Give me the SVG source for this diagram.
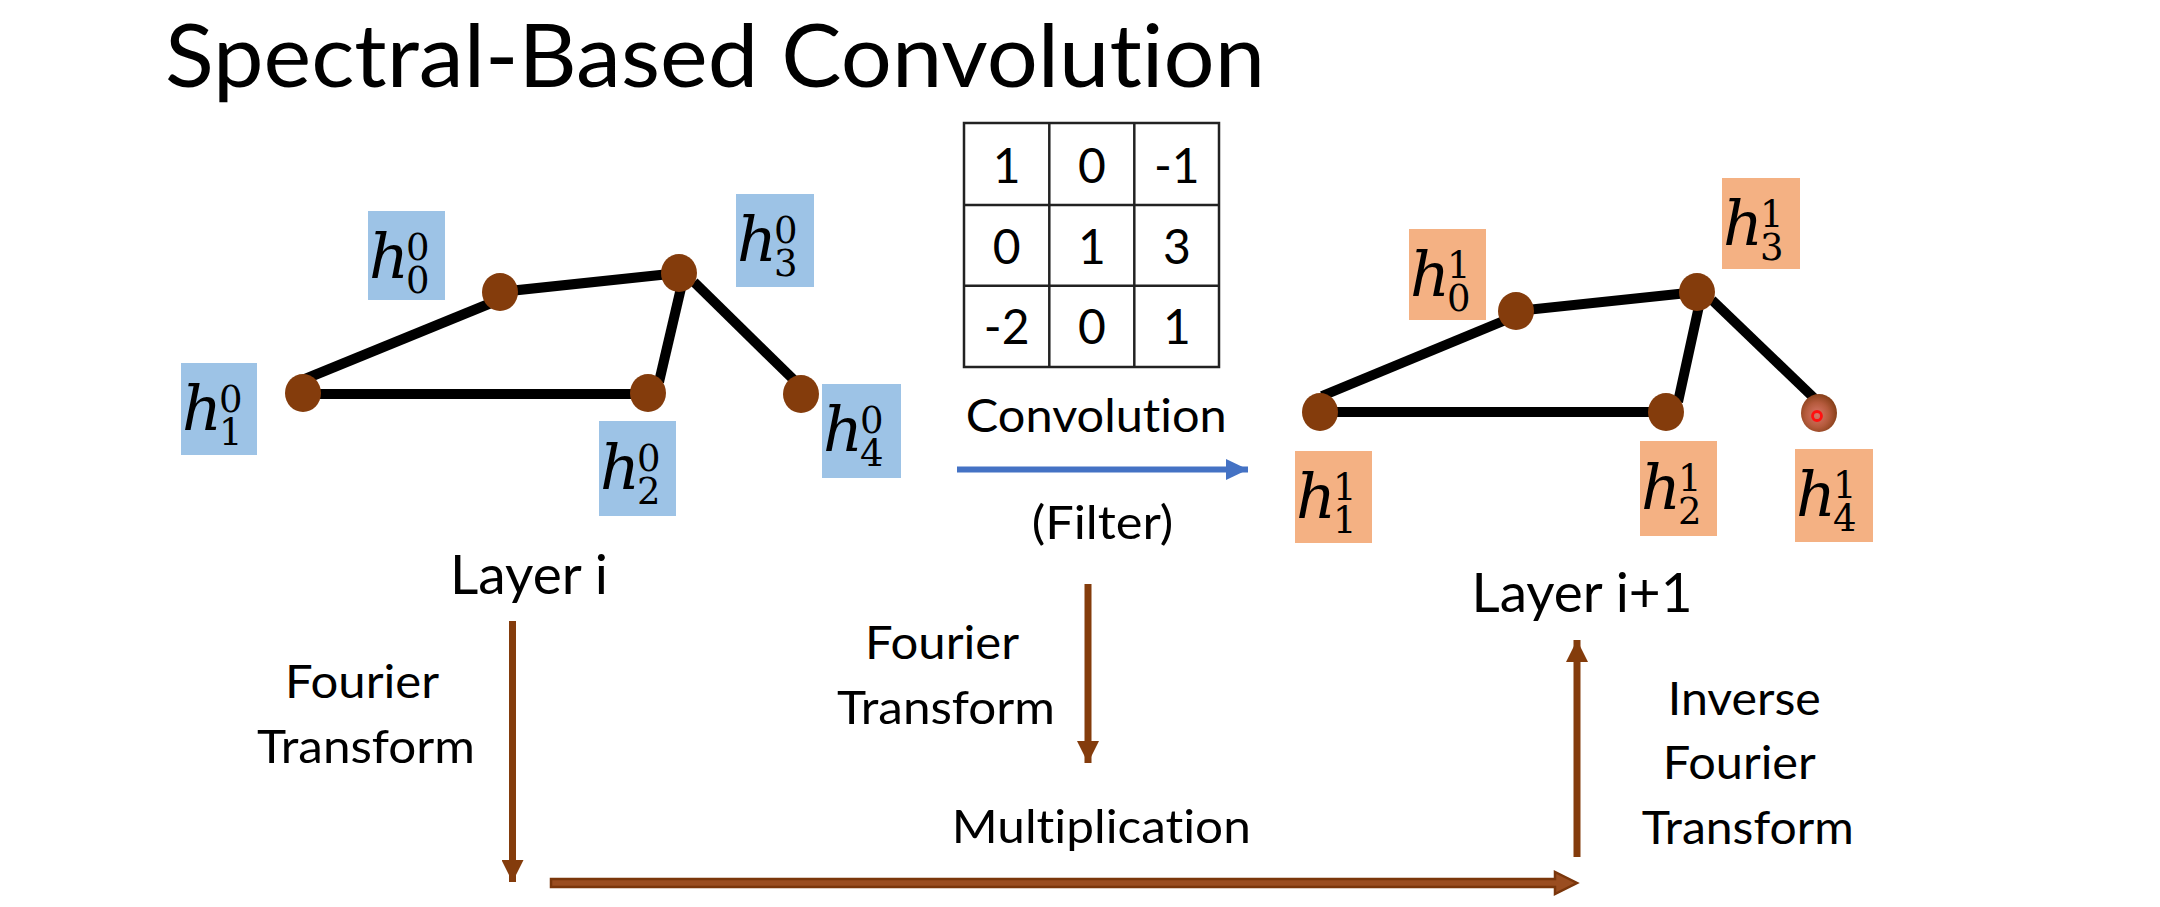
<svg xmlns="http://www.w3.org/2000/svg" width="2160" height="907" viewBox="0 0 2160 907">
<style>
  .t{font-family:Lato,"Liberation Sans",sans-serif;fill:#000;font-variant-ligatures:none;font-feature-settings:"liga" 0,"clig" 0,"dlig" 0,"calt" 0}
  .lbl{font-size:46.7px;text-anchor:middle}
  .lay{font-size:54px;text-anchor:middle}
  .cell{font-size:48px;text-anchor:middle}
  .edge{stroke:#000;stroke-width:10;stroke-linecap:butt;fill:none}
  .node{fill:#843C0C}
  .blue{fill:#9DC3E6}
  .orange{fill:#F4B183}
  .h{font-family:"DejaVu Serif","Liberation Serif",serif;font-style:italic;font-size:62px;fill:#000}
  .d{font-style:normal;font-size:37px}
  .grid{stroke:#222;stroke-width:2.5;fill:none}
  .brn{stroke:#843C0C;stroke-width:7;fill:none}
</style>
<defs>
  <marker id="ahB" markerUnits="userSpaceOnUse" markerWidth="22" markerHeight="22" refX="22" refY="11" orient="auto">
    <path d="M0,0 L22,11 L0,22 z" fill="#843C0C"/>
  </marker>
  <marker id="ahBlue" markerUnits="userSpaceOnUse" markerWidth="22" markerHeight="22" refX="22" refY="11" orient="auto">
    <path d="M0,0.5 L22,11 L0,21.5 z" fill="#4472C4"/>
  </marker>
  <radialGradient id="hot" cx="0.45" cy="0.55" r="0.6">
    <stop offset="0" stop-color="#D9786A"/>
    <stop offset="0.55" stop-color="#B45A3C"/>
    <stop offset="1" stop-color="#7E3A12"/>
  </radialGradient>
</defs>
<rect x="0" y="0" width="2160" height="907" fill="#fff"/>

<g id="title">
  <text class="t" x="165" y="87" font-size="87" textLength="1100" lengthAdjust="spacingAndGlyphs">Spectral-Based Convolution</text>
</g>

<g id="connectors">
  <line class="edge" x1="305" y1="379" x2="496" y2="301"/>
  <line class="edge" x1="500" y1="292" x2="679" y2="273"/>
  <line class="edge" x1="681" y1="288" x2="659" y2="382"/>
  <line class="edge" x1="694" y1="282" x2="796" y2="382"/>
  <line class="edge" x1="303" y1="394" x2="648" y2="394"/>
  <line class="edge" x1="1322" y1="396" x2="1513" y2="317"/>
  <line class="edge" x1="1516" y1="311" x2="1697" y2="292"/>
  <line class="edge" x1="1699" y1="306" x2="1678" y2="402"/>
  <line class="edge" x1="1712" y1="300" x2="1814" y2="398"/>
  <line class="edge" x1="1320" y1="412" x2="1666" y2="412"/>
  <line x1="957" y1="469.5" x2="1248" y2="469.5" stroke="#4472C4" stroke-width="6" marker-end="url(#ahBlue)"/>
  <line class="brn" x1="512.5" y1="621" x2="512.5" y2="882" marker-end="url(#ahB)"/>
  <line class="brn" x1="1088" y1="584" x2="1088" y2="763" marker-end="url(#ahB)"/>
  <line class="brn" x1="1577" y1="857" x2="1577" y2="640" marker-end="url(#ahB)"/>
  <path d="M551,879 L1555,879 L1555,872 L1577,883 L1555,894 L1555,887 L551,887 Z" fill="#9A4D20" stroke="#7A360B" stroke-width="2.5" stroke-linejoin="miter"/>
</g>

<g id="filter">
  <rect class="grid" x="964" y="123" width="255" height="244"/>
  <line class="grid" x1="1049.3" y1="123" x2="1049.3" y2="367"/>
  <line class="grid" x1="1134.3" y1="123" x2="1134.3" y2="367"/>
  <line class="grid" x1="964" y1="205" x2="1219" y2="205"/>
  <line class="grid" x1="964" y1="285.7" x2="1219" y2="285.7"/>
  <text class="t cell" x="1006.7" y="182.5">1</text>
  <text class="t cell" x="1091.8" y="182.5">0</text>
  <text class="t cell" x="1176.8" y="182.5">-1</text>
  <text class="t cell" x="1006.7" y="264">0</text>
  <text class="t cell" x="1091.8" y="264">1</text>
  <text class="t cell" x="1176.8" y="264">3</text>
  <text class="t cell" x="1006.7" y="344">-2</text>
  <text class="t cell" x="1091.8" y="344">0</text>
  <text class="t cell" x="1176.8" y="344">1</text>
</g>

<g id="L_h0">
  <ellipse class="node" cx="500" cy="292" rx="18" ry="19"/>
  <rect class="blue" x="368" y="211" width="77" height="89"/>
  <text class="h" x="369" y="278">h<tspan class="d" x="406" y="260">0</tspan><tspan class="d" x="406" y="293">0</tspan></text>
</g>
<g id="L_h1">
  <ellipse class="node" cx="303" cy="393" rx="18" ry="19"/>
  <rect class="blue" x="181" y="363" width="76" height="92"/>
  <text class="h" x="182" y="430">h<tspan class="d" x="219" y="412">0</tspan><tspan class="d" x="219" y="445">1</tspan></text>
</g>
<g id="L_h2">
  <ellipse class="node" cx="648" cy="393" rx="18" ry="19"/>
  <rect class="blue" x="599" y="421" width="77" height="95"/>
  <text class="h" x="600" y="489">h<tspan class="d" x="637" y="471">0</tspan><tspan class="d" x="637" y="504">2</tspan></text>
</g>
<g id="L_h3">
  <ellipse class="node" cx="679" cy="273" rx="18" ry="19"/>
  <rect class="blue" x="736" y="194" width="78" height="93"/>
  <text class="h" x="737" y="261">h<tspan class="d" x="774" y="243">0</tspan><tspan class="d" x="774" y="276">3</tspan></text>
</g>
<g id="L_h4">
  <ellipse class="node" cx="801" cy="394" rx="18" ry="19"/>
  <rect class="blue" x="822" y="384" width="79" height="94"/>
  <text class="h" x="823" y="451">h<tspan class="d" x="860" y="433">0</tspan><tspan class="d" x="860" y="466">4</tspan></text>
</g>

<g id="R_h0">
  <ellipse class="node" cx="1516" cy="311" rx="18" ry="19"/>
  <rect class="orange" x="1409" y="229" width="77" height="91"/>
  <text class="h" x="1410" y="296">h<tspan class="d" x="1447" y="278">1</tspan><tspan class="d" x="1447" y="311">0</tspan></text>
</g>
<g id="R_h1">
  <ellipse class="node" cx="1320" cy="412" rx="18" ry="19"/>
  <rect class="orange" x="1295" y="451" width="77" height="92"/>
  <text class="h" x="1296" y="518">h<tspan class="d" x="1333" y="500">1</tspan><tspan class="d" x="1333" y="533">1</tspan></text>
</g>
<g id="R_h2">
  <ellipse class="node" cx="1666" cy="412" rx="18" ry="19"/>
  <rect class="orange" x="1640" y="441" width="77" height="95"/>
  <text class="h" x="1641" y="509">h<tspan class="d" x="1678" y="491">1</tspan><tspan class="d" x="1678" y="524">2</tspan></text>
</g>
<g id="R_h3">
  <ellipse class="node" cx="1697" cy="292" rx="18" ry="19"/>
  <rect class="orange" x="1722" y="178" width="78" height="91"/>
  <text class="h" x="1723" y="245">h<tspan class="d" x="1760" y="227">1</tspan><tspan class="d" x="1760" y="260">3</tspan></text>
</g>
<g id="R_h4">
  <ellipse cx="1819" cy="413" rx="18" ry="19" fill="url(#hot)"/>
  <circle cx="1817" cy="416" r="4.5" fill="none" stroke="#FF1010" stroke-width="2.8"/>
  <rect class="orange" x="1795" y="449" width="78" height="93"/>
  <text class="h" x="1796" y="516">h<tspan class="d" x="1833" y="498">1</tspan><tspan class="d" x="1833" y="531">4</tspan></text>
</g>

<g id="labels">
  <text class="t lbl" x="1096.3" y="431.7" textLength="261" lengthAdjust="spacingAndGlyphs">Convolution</text>
  <text class="t lbl" x="1102.5" y="539.3" textLength="141.6" lengthAdjust="spacingAndGlyphs">(Filter)</text>
  <text class="t lay" x="529" y="594" textLength="158" lengthAdjust="spacingAndGlyphs">Layer i</text>
  <text class="t lay" x="1582" y="611.7" textLength="221" lengthAdjust="spacingAndGlyphs">Layer i+1</text>
  <text class="t lbl" x="362" y="698.3" textLength="154" lengthAdjust="spacingAndGlyphs">Fourier</text>
  <text class="t lbl" x="366" y="762.7" textLength="218" lengthAdjust="spacingAndGlyphs">Transform</text>
  <text class="t lbl" x="942" y="659.3" textLength="154" lengthAdjust="spacingAndGlyphs">Fourier</text>
  <text class="t lbl" x="946" y="724" textLength="218" lengthAdjust="spacingAndGlyphs">Transform</text>
  <text class="t lbl" x="1101.3" y="843.3" textLength="299" lengthAdjust="spacingAndGlyphs">Multiplication</text>
  <text class="t lbl" x="1744.3" y="715" textLength="153" lengthAdjust="spacingAndGlyphs">Inverse</text>
  <text class="t lbl" x="1739.3" y="779.3" textLength="153" lengthAdjust="spacingAndGlyphs">Fourier</text>
  <text class="t lbl" x="1747.7" y="844" textLength="212" lengthAdjust="spacingAndGlyphs">Transform</text>
</g>
</svg>
